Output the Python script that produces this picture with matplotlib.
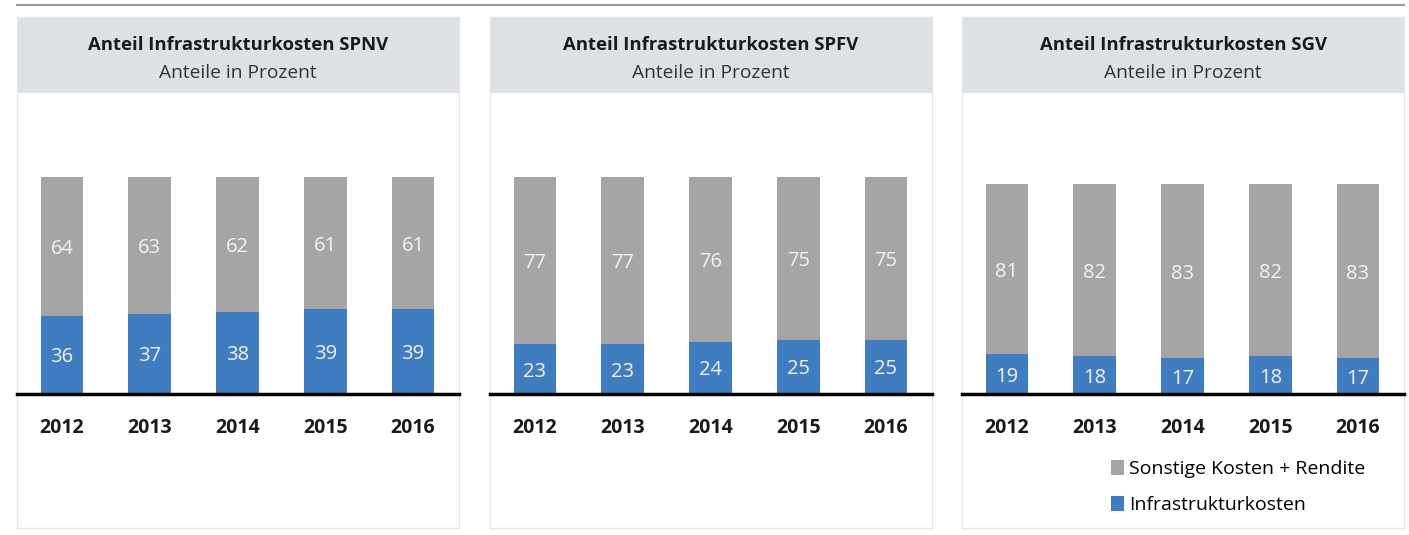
import numpy as np
import matplotlib.pyplot as plt
from matplotlib.patches import Rectangle
from matplotlib.lines import Line2D

years = ['2012', '2013', '2014', '2015', '2016']
titles = ['Anteil Infrastrukturkosten SPNV',
          'Anteil Infrastrukturkosten SPFV',
          'Anteil Infrastrukturkosten SGV']
subtitle = 'Anteile in Prozent'

infra_spnv = [36, 37, 38, 39, 39]
other_spnv = [64, 63, 62, 61, 61]
infra_spfv = [23, 23, 24, 25, 25]
other_spfv = [77, 77, 76, 75, 75]
infra_sgv = [19, 18, 17, 18, 17]
other_sgv = [81, 82, 83, 82, 83]

legend_labels = ['Sonstige Kosten + Rendite', 'Infrastrukturkosten']

BLUE = '#3f7cc0'
GREY = '#a5a5a5'
HEADER = '#dde1e4'

plt.rcParams['font.family'] = ['Open Sans', 'DejaVu Sans']

W, H = 1409, 535
fig = plt.figure(figsize=(W / 100, H / 100), dpi=100)


def px_axes(x0, y0, x1, y1, **kw):
    return fig.add_axes([x0 / W, 1 - y1 / H, (x1 - x0) / W, (y1 - y0) / H], **kw)


# thin rule across the top
fig.add_artist(Line2D([17 / W, 1404 / W], [1 - 5 / H, 1 - 5 / H],
                      transform=fig.transFigure, color='#999999', lw=1.5))

panels = [(17, 459, infra_spnv, other_spnv, 135.5),
          (490, 932, infra_spfv, other_spfv, 135.5),
          (962, 1404, infra_sgv, other_sgv, 140)]

x = np.arange(len(years))
base_y = 394
top_y = 100

for i, (x0, x1, infra, other, ytop) in enumerate(panels):
    # panel frame + header
    bg = px_axes(x0, 17, x1, 528)
    bg.set_xlim(0, 1)
    bg.set_ylim(0, 1)
    bg.set_xticks([])
    bg.set_yticks([])
    for s in bg.spines.values():
        s.set_color('#e6e6e6')
        s.set_linewidth(1)
    hdr_h = (93 - 17) / (528 - 17)
    bg.add_patch(Rectangle((0, 1 - hdr_h), 1, hdr_h, color=HEADER, lw=0))
    bg.text(0.5, 1 - (45 - 17) / 511, titles[i], ha='center', va='center',
            fontsize=13.3, fontweight='bold', color='#1a1a1a')
    bg.text(0.5, 1 - (73 - 17) / 511, subtitle, ha='center', va='center',
            fontsize=13.8, color='#333333')

    # bar axes
    ax = px_axes(x0, top_y, x1, base_y)
    ax.patch.set_alpha(0)
    left_pad = (45) / 87.75
    ax.set_xlim(-left_pad, 4 + (x1 - x0 - 45 - 4 * 87.75) / 87.75)
    ax.set_ylim(0, ytop)
    b1 = ax.bar(x, infra, width=0.49, color=BLUE, lw=0,
                label=legend_labels[1])
    b2 = ax.bar(x, other, width=0.49, bottom=infra, color=GREY, lw=0,
                label=legend_labels[0])
    for xi, a, b in zip(x, infra, other):
        ax.text(xi, a / 2, str(a), ha='center', va='center_baseline',
                fontsize=14.5, color='#f2f2f2')
        ax.text(xi, a + b / 2, str(b), ha='center', va='center_baseline',
                fontsize=14.5, color='#f2f2f2')
    ax.axhline(0, color='black', lw=2.5, clip_on=False)
    for s in ax.spines.values():
        s.set_visible(False)
    ax.set_yticks([])
    ax.set_xticks(x)
    ax.set_xticklabels(years, fontsize=14, fontweight='bold', color='#1a1a1a')
    ax.tick_params(axis='x', length=0, pad=17)

    if i == 2:
        ax.legend([b2, b1], legend_labels, loc='upper left',
                  bbox_to_anchor=((1111 - x0) / (x1 - x0), -(460 - base_y) / (base_y - top_y)),
                  frameon=False, fontsize=14, handlelength=0.65, handleheight=0.8,
                  handletextpad=0.3, labelspacing=0.9, borderaxespad=0,
                  borderpad=0)

fig.savefig('out.png', dpi=100)
